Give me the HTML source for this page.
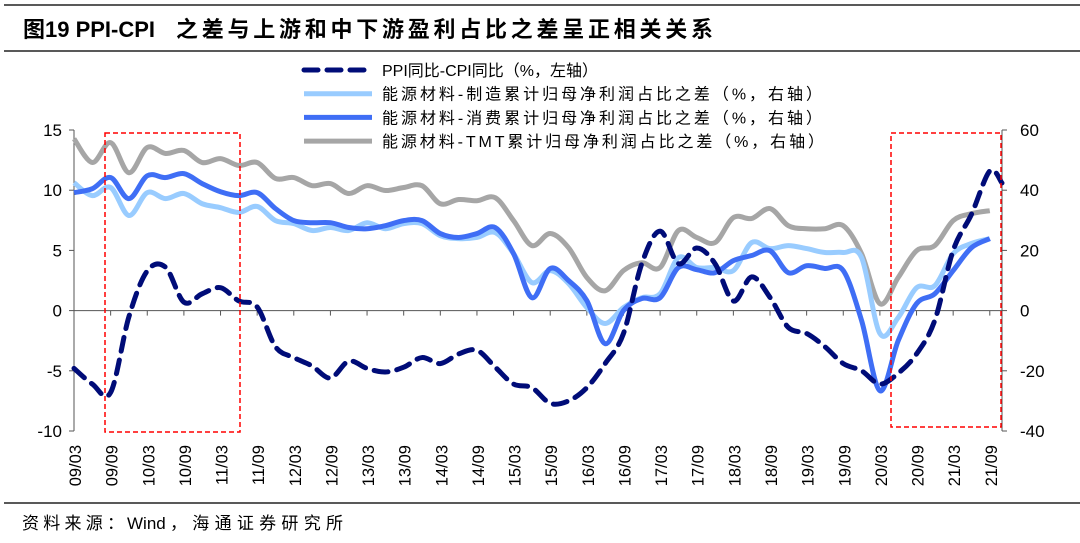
<!DOCTYPE html>
<html><head><meta charset="utf-8"><style>
body{margin:0;background:#fff;width:1080px;height:538px;overflow:hidden;font-family:"Liberation Sans","Noto Sans CJK SC",sans-serif}
</style></head><body>
<svg width="1080" height="538" xmlns="http://www.w3.org/2000/svg" style="font-family:'Liberation Sans','Noto Sans CJK SC',sans-serif">
<line x1="4" y1="5" x2="1080" y2="5" stroke="#222" stroke-width="1.5"/>
<text y="37" font-size="22" font-weight="bold" fill="#000"><tspan x="23">图19 PPI-CPI</tspan><tspan x="176" textLength="537" lengthAdjust="spacing">之差与上游和中下游盈利占比之差呈正相关关系</tspan></text>
<line x1="4" y1="51" x2="1080" y2="51" stroke="#222" stroke-width="1.5"/>
<line x1="4" y1="503" x2="1080" y2="503" stroke="#222" stroke-width="1.5"/>
<text y="529" font-size="17" fill="#000"><tspan x="22" textLength="102" lengthAdjust="spacing">资料来源：</tspan><tspan x="127">Wind</tspan><tspan x="170" textLength="173" lengthAdjust="spacing">，海通证券研究所</tspan></text>
<g id="plot"></g>
<g id="legend"></g>
</svg>
<script>
const months=[0,3,6,9,12,15,18,21,24,27,30,33,36,39,42,45,48,51,54,57,60,63,66,69,72,75,78,81,84,87,90,93,96,99,102,105,108,111,114,117,120,123,126,129,132,135,138,141,144,147,150];
const ppiMonths=months.concat([152]);
const ppiCpi=[-4.8,-6.1,-6.8,-0.5,3.3,3.6,0.7,1.4,1.9,0.8,0.3,-3,-3.9,-4.6,-5.6,-4.2,-4.8,-5.1,-4.7,-3.9,-4.4,-3.6,-3.3,-4.7,-6.1,-6.4,-7.7,-7.5,-6.4,-4.4,-1.9,3.9,6.6,3.9,5.2,3.9,0.8,2.8,1.1,-1.4,-1.9,-3.0,-4.4,-5.0,-6.1,-5.2,-3.6,-0.8,5.0,8.0,11.6,10.6];
const mfg=[42.5,38.2,40.9,31.6,39.2,37.2,38.9,35.5,34.2,32.6,34.6,29.9,28.9,26.6,27.6,26.6,29.2,27.2,28.9,28.9,24.9,23.9,24.3,25.9,18.9,9.3,13.3,9.0,1.0,-4.3,1.0,4.3,5.6,17.6,14.3,14.3,13.3,22.6,20.6,21.6,20.6,19.3,19.3,17.6,-7.6,-2.3,7.6,8.3,18.9,22.3,23.9];
const cons=[39.2,40.5,44.2,37.2,44.8,44.2,45.5,42.2,39.5,38.2,39.2,33.9,29.9,29.2,29.2,27.6,27.2,28.2,29.9,29.9,25.6,24.3,25.6,27.6,18.9,4.3,14.0,10.0,3.3,-11.0,0,4.0,4.3,14.3,13.6,12.6,16.6,18.3,19.9,12.6,14.9,14.0,13.3,-3.3,-26.6,-10.0,2.3,5.6,13.3,20.9,23.9];
const tmt=[57.1,49.2,55.8,45.8,54.2,52.2,53.2,49.2,50.5,48.2,49.2,43.9,44.2,41.5,42.2,38.9,41.5,39.9,40.9,41.5,35.5,36.9,36.5,37.5,29.9,21.6,25.6,20.9,11.0,6.6,13.3,15.9,14.3,26.6,24.3,22.6,30.9,30.6,33.9,28.2,27.2,27.2,28.2,18.9,2.3,11.0,19.9,21.6,29.9,32.2,33.2];
const leftTicks=[15,10,5,0,-5,-10];
const rightTicks=[60,40,20,0,-20,-40];
const xLabels=["09/03","09/09","10/03","10/09","11/03","11/09","12/03","12/09","13/03","13/09","14/03","14/09","15/03","15/09","16/03","16/09","17/03","17/09","18/03","18/09","19/03","19/09","20/03","20/09","21/03","21/09"];

const NS="http://www.w3.org/2000/svg";
const plot=document.getElementById('plot'),legend=document.getElementById('legend');
const X0=74,X1=1002,YT=130,YB=431;
const xS=m=>X0+m*(X1-X0)/152;
const yL=v=>YT+(15-v)*(YB-YT)/25;
const yR=v=>YT+(60-v)*(YB-YT)/100;
function mk(tag,attrs,parent){const e=document.createElementNS(NS,tag);for(const k in attrs)e.setAttribute(k,attrs[k]);parent.appendChild(e);return e;}
function smooth(pts){let d=`M${pts[0][0]},${pts[0][1]}`;for(let i=0;i<pts.length-1;i++){const p0=pts[i-1]||pts[i],p1=pts[i],p2=pts[i+1],p3=pts[i+2]||p2;const c1=[p1[0]+(p2[0]-p0[0])/6,p1[1]+(p2[1]-p0[1])/6],c2=[p2[0]-(p3[0]-p1[0])/6,p2[1]-(p3[1]-p1[1])/6];d+=` C${c1[0]},${c1[1]} ${c2[0]},${c2[1]} ${p2[0]},${p2[1]}`;}return d;}

let a=mk('line',{x1:X0,y1:YT,x2:X0,y2:YB,stroke:'#555','stroke-width':1},plot);

a=mk('line',{x1:X1,y1:YT,x2:X1,y2:YB,stroke:'#555','stroke-width':1},plot);

a=mk('line',{x1:X0,y1:yL(0),x2:X1,y2:yL(0),stroke:'#555','stroke-width':1},plot);

leftTicks.forEach(v=>{const y=yL(v);mk('line',{x1:X0-5,y1:y,x2:X0,y2:y,stroke:'#555'},plot);
 const t=mk('text',{x:X0-12,y:y+6,'font-size':17,'text-anchor':'end',fill:'#000'},plot);t.textContent=v;
 });
rightTicks.forEach(v=>{const y=yR(v);mk('line',{x1:X1,y1:y,x2:X1+5,y2:y,stroke:'#555'},plot);
 const t=mk('text',{x:X1+18,y:y+6,'font-size':17,'text-anchor':'start',fill:'#000'},plot);t.textContent=v;
 });
xLabels.forEach((l,i)=>{const x=xS(i*6);mk('line',{x1:x,y1:yL(0),x2:x,y2:yL(0)+5,stroke:'#555'},plot);
 const cx=x+7;const t=mk('text',{x:cx,y:445,'font-size':16.5,'text-anchor':'end',fill:'#000',transform:`rotate(-90 ${cx} 445)`},plot);t.textContent=l;
 });

function series(ms,vals,ys,attrs,name){const p=mk('path',Object.assign({d:smooth(ms.map((m,i)=>[xS(m),ys(vals[i])])),fill:'none','stroke-linejoin':'round'},attrs),plot);
 }
series(months,tmt,yR,{stroke:'#a6a6a6','stroke-width':5},'tmt-line');
series(months,mfg,yR,{stroke:'#99ccff','stroke-width':5},'manufacturing-line');
series(months,cons,yR,{stroke:'#3f6ef5','stroke-width':5},'consumer-line');
series(ppiMonths,ppiCpi,yL,{stroke:'#000c78','stroke-width':5,'stroke-dasharray':'14 9','stroke-linecap':'round'},'ppi-cpi-line');

let r=mk('rect',{x:105,y:133,width:135,height:299,fill:'none',stroke:'#ff0000','stroke-width':1.5,'stroke-dasharray':'5 3'},plot);

r=mk('rect',{x:891,y:133,width:110,height:294,fill:'none',stroke:'#ff0000','stroke-width':1.5,'stroke-dasharray':'5 3'},plot);


const legItems=[["PPI同比-CPI同比（%，左轴）",'#000c78',true,216],["能源材料-制造累计归母净利润占比之差（%，右轴）",'#99ccff',false,440],["能源材料-消费累计归母净利润占比之差（%，右轴）",'#3f6ef5',false,440],["能源材料-TMT累计归母净利润占比之差（%，右轴）",'#a6a6a6',false,442]];
legItems.forEach((it,i)=>{const y=70+i*23.7;const g=mk('g',{},legend);
 
 const at={x1:304,y1:y,x2:372,y2:y,stroke:it[1],'stroke-width':5};if(it[2]){at['stroke-dasharray']='14 9';at['stroke-linecap']='round';}
 mk('line',at,g);const t=mk('text',{x:382,y:y+6,'font-size':16,fill:'#000',textLength:it[3],lengthAdjust:'spacing'},g);t.textContent=it[0];});
</script>
</body></html>
